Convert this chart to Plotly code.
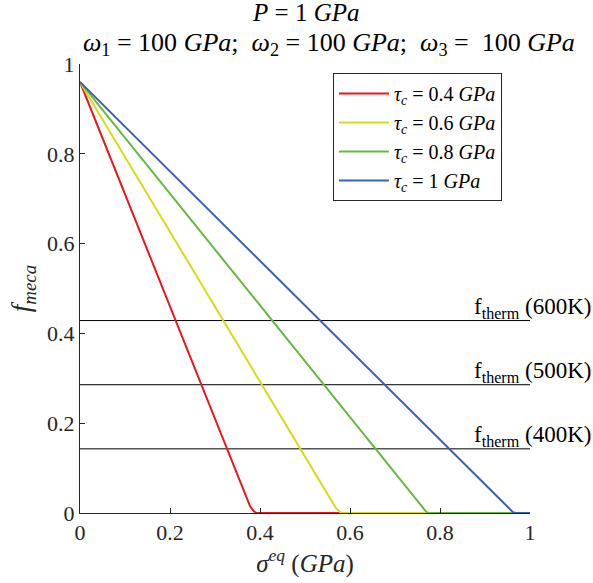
import plotly.graph_objects as go

# Data
series_names = ["<i>τ</i><sub><i>c</i></sub> = 0.4 <i>GPa</i>",
                "<i>τ</i><sub><i>c</i></sub> = 0.6 <i>GPa</i>",
                "<i>τ</i><sub><i>c</i></sub> = 0.8 <i>GPa</i>",
                "<i>τ</i><sub><i>c</i></sub> = 1 <i>GPa</i>"]
red_x = [0.0, 0.368, 0.378, 0.386, 0.392, 1.0]
red_y = [0.96, 0.04, 0.015, 0.004, 0.0, 0.0]
yellow_x = [0.0, 0.568, 0.578, 0.584, 1.0]
yellow_y = [0.96, 0.012, 0.002, 0.0, 0.0]
green_x = [0.0, 0.762, 0.77, 0.776, 1.0]
green_y = [0.96, 0.01, 0.002, 0.0, 0.0]
blue_x = [0.0, 0.953, 0.962, 0.968, 1.0]
blue_y = [0.96, 0.01, 0.002, 0.0, 0.0]
series_x = [red_x, yellow_x, green_x, blue_x]
series_y = [red_y, yellow_y, green_y, blue_y]
colors = ["#e8191c", "#d4dc20", "#68b846", "#3a62b4"]

therm_levels = [0.4286, 0.2857, 0.1429]
therm_labels = ["f<sub>therm</sub> (600K)", "f<sub>therm</sub> (500K)", "f<sub>therm</sub> (400K)"]

title_line1 = "<i>P</i> = 1 <i>GPa</i>"
title_line2 = ("<i>ω</i><sub>1</sub> = 100 <i>GPa</i>;  <i>ω</i><sub>2</sub> = 100 <i>GPa</i>;"
               "  <i>ω</i><sub>3</sub> =  100 <i>GPa</i>")

serif = "Liberation Serif"

fig = go.Figure()
for lvl in therm_levels:
    fig.add_trace(go.Scatter(x=[0, 1], y=[lvl, lvl], mode="lines",
                             line=dict(color="black", width=1), showlegend=False,
                             hoverinfo="skip"))
for name, xs, ys, c in zip(series_names, series_x, series_y, colors):
    fig.add_trace(go.Scatter(x=xs, y=ys, mode="lines", name=name,
                             line=dict(color=c, width=2)))

for lvl, lab in zip(therm_levels, therm_labels):
    fig.add_annotation(x=0.872, y=lvl, xref="x", yref="y", text=lab,
                       showarrow=False, xanchor="left", yanchor="bottom",
                       yshift=-3, font=dict(family=serif, size=23, color="black"))

fig.add_annotation(x=0.5, y=1.0, xref="paper", yref="paper", yanchor="middle",
                   yshift=52, showarrow=False, text=title_line1,
                   font=dict(family=serif, size=25, color="black"))
fig.add_annotation(x=0.553, y=1.0, xref="paper", yref="paper", yanchor="middle",
                   yshift=20, showarrow=False, text=title_line2,
                   font=dict(family=serif, size=26, color="black"))

axis_common = dict(showline=True, linecolor="#262626", linewidth=1, ticks="inside",
                   ticklen=5, tickcolor="#262626", showgrid=False, zeroline=False,
                   tickfont=dict(family=serif, size=22, color="#262626"), mirror=False)

fig.update_layout(
    width=593, height=583,
    margin=dict(l=80, r=63, t=64, b=70),
    plot_bgcolor="white", paper_bgcolor="white",
    font=dict(family=serif),
    xaxis=dict(range=[0, 1], tickvals=[0, 0.2, 0.4, 0.6, 0.8, 1],
               ticktext=["0", "0.2", "0.4", "0.6", "0.8", "1"],
               title=dict(text="<i>σ</i><sup><i>eq</i></sup> (<i>GPa</i>)",
                          font=dict(family=serif, size=25, color="#262626"), standoff=8),
               **axis_common),
    yaxis=dict(range=[0, 1], tickvals=[0, 0.2, 0.4, 0.6, 0.8, 1],
               ticktext=["0", "0.2", "0.4", "0.6", "0.8", "1"],
               title=dict(text="<i>f</i><sub><i>meca</i></sub>",
                          font=dict(family=serif, size=27, color="#262626"), standoff=8),
               **axis_common),
    legend=dict(x=0.562, y=0.98, xanchor="left", yanchor="top",
                bordercolor="#262626", borderwidth=1, bgcolor="white",
                font=dict(family=serif, size=20, color="black"),
                tracegroupgap=0, itemwidth=50),
    showlegend=True,
)

fig.write_html("out.html")
